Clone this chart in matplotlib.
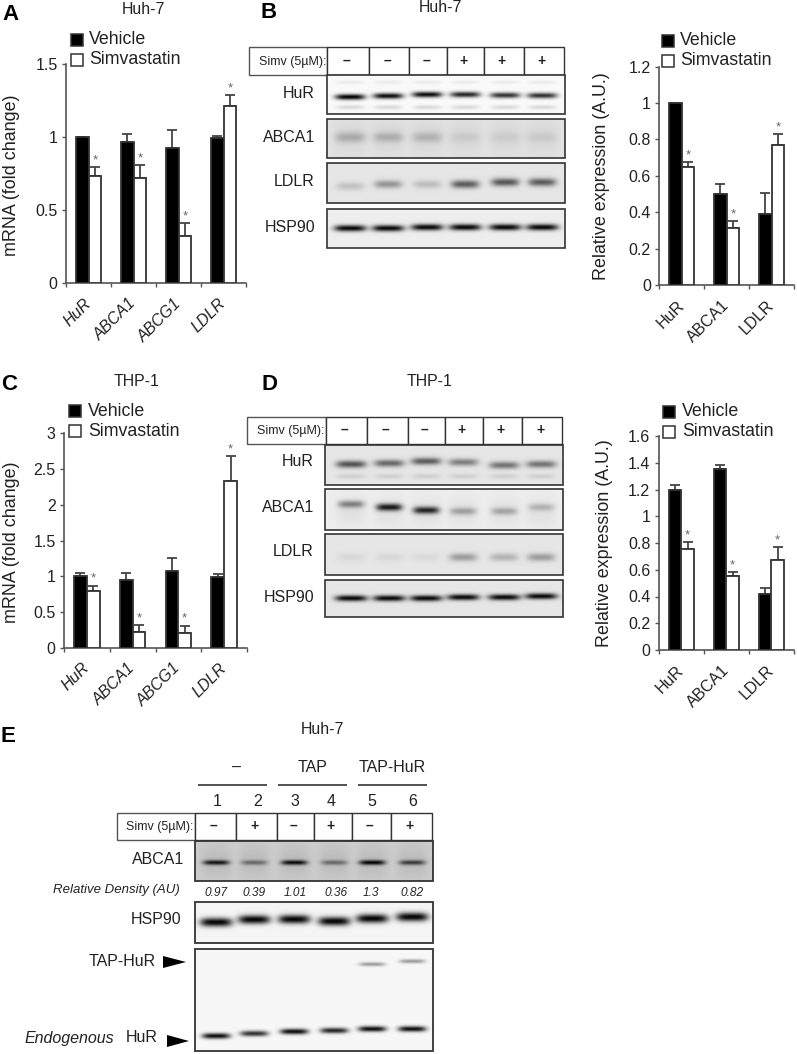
import numpy as np
import matplotlib
matplotlib.use('Agg')
import matplotlib.pyplot as plt
from matplotlib.patches import Rectangle, Polygon

plt.rcParams['font.family'] = ['Liberation Sans', 'DejaVu Sans']

W, H = 797, 1054
TXT = '#222222'
GREY = '#555555'

# bar charts
cats_a = ['HuR', 'ABCA1', 'ABCG1', 'LDLR']
veh_a = [1.0, 0.965, 0.925, 0.99]
veh_a_top = [1.0, 1.02, 1.05, 1.005]
sim_a = [0.735, 0.72, 0.32, 1.215]
sim_a_top = [0.795, 0.81, 0.41, 1.29]

cats_b = ['HuR', 'ABCA1', 'LDLR']
veh_b = [1.0, 0.5, 0.39]
veh_b_top = [1.0, 0.555, 0.505]
sim_b = [0.65, 0.315, 0.77]
sim_b_top = [0.675, 0.35, 0.83]

veh_c = [1.0, 0.95, 1.08, 0.99]
veh_c_top = [1.04, 1.05, 1.26, 1.03]
sim_c = [0.8, 0.22, 0.2, 2.33]
sim_c_top = [0.87, 0.32, 0.31, 2.68]

veh_d = [1.2, 1.35, 0.415]
veh_d_top = [1.23, 1.385, 0.46]
sim_d = [0.755, 0.555, 0.675]
sim_d_top = [0.81, 0.585, 0.77]

ticks_a = [0, 0.5, 1, 1.5]
ticks_b = [0, 0.2, 0.4, 0.6, 0.8, 1, 1.2]
ticks_c = [0, 0.5, 1, 1.5, 2, 2.5, 3]
ticks_d = [0, 0.2, 0.4, 0.6, 0.8, 1, 1.2, 1.4, 1.6]

# blots: band height (px on page) and darkness per lane
lanes_b = [350, 388, 427, 465, 505, 542]
lanes_d = [351, 389, 426, 463, 504, 541]
lanes_e = [216, 254, 294, 334, 372, 412]

huh_hur_y = [96.7, 95.7, 94.3, 94.3, 95, 95.3]
huh_hur_dark = [1.0, 0.95, 0.95, 0.85, 0.8, 0.8]
huh_abca1_dark = [0.22, 0.2, 0.18, 0.07, 0.06, 0.07]
huh_ldlr_dark = [0.16, 0.35, 0.18, 0.6, 0.62, 0.6]
huh_ldlr_y = [186, 184, 184, 184, 182, 182]
huh_hsp_y = [228, 228, 227, 227, 227, 227]

thp_hur_y = [464, 463, 461, 462, 465, 464]
thp_hur_dark = [0.65, 0.55, 0.6, 0.45, 0.5, 0.5]
thp_abca1_y = [504, 507, 510, 511, 511, 507]
thp_abca1_dark = [0.45, 0.9, 0.85, 0.3, 0.28, 0.22]
thp_ldlr_dark = [0.06, 0.06, 0.05, 0.32, 0.22, 0.32]
thp_hsp_y = [598, 598, 598, 597, 597, 596]

e_abca1_dark = [0.9, 0.45, 0.95, 0.45, 1.0, 0.7]
e_hsp_y = [922, 919.3, 919, 921, 918.3, 916.7]
e_tap_y = [964, 961]
e_tap_dark = [0.38, 0.38]
e_endo_y = [1035.7, 1033.3, 1031.3, 1030.3, 1028.7, 1028.7]
e_endo_dark = [0.95, 0.8, 0.95, 0.85, 0.95, 0.95]

density_vals = ['0.97', '0.39', '1.01', '0.36', '1.3', '0.82']
density_x = [216, 254, 295, 336, 371, 412]
lane_nums = ['1', '2', '3', '4', '5', '6']
lane_num_x = [217, 258, 295, 331, 372, 413]
signs_top = ['–', '–', '–', '+', '+', '+']
signs_e = ['–', '+', '–', '+', '–', '+']

fig = plt.figure(figsize=(W / 100, H / 100), dpi=100, facecolor='white')

over = fig.add_axes([0, 0, 1, 1], facecolor='none', zorder=5)
over.set_xlim(0, W)
over.set_ylim(H, 0)
over.axis('off')


def bar_panel(x0, x1, ytop, y0, ymax, ticks, cats, veh, veh_top, sim, sim_top, ylabel, ylab_x, italic=False):
    ax = fig.add_axes([x0 / W, 1 - y0 / H, (x1 - x0) / W, (y0 - ytop) / H])
    x = np.arange(len(cats))
    w = 0.28
    for pos, vals, tops, col in [(x - w / 2, veh, veh_top, 'black'), (x + w / 2, sim, sim_top, 'white')]:
        ax.bar(pos, vals, w, color=col, edgecolor='#333333', linewidth=1.3, zorder=3)
        up = np.array(tops) - np.array(vals)
        ax.errorbar(pos, vals, yerr=[np.zeros(len(vals)), up], fmt='none', ecolor='#444444',
                    elinewidth=1.3, capsize=3.5, capthick=1.3, zorder=2)
    for p, t in zip(x + w / 2, sim_top):
        ax.annotate('*', (p, t), xytext=(0, 0.5), textcoords='offset points', ha='center', va='bottom',
                    fontsize=9.5, color='#666666')
    ax.set_xlim(-0.5, len(cats) - 0.5)
    ax.set_ylim(0, ymax)
    ax.set_yticks(ticks, labels=[f'{t:g}' for t in ticks])
    ax.set_xticks(np.arange(len(cats) + 1) - 0.5, labels=[''] * (len(cats) + 1))
    ax.set_xticks(x, labels=cats, minor=True)
    ax.tick_params(axis='x', which='major', length=3, width=1, color=GREY)
    ax.tick_params(axis='x', which='minor', length=0, pad=13, labelsize=11.5, labelcolor=TXT)
    ax.tick_params(axis='y', length=3, width=1, color=GREY, labelsize=11.5, labelcolor=TXT, pad=3)
    for lab in ax.get_xticklabels(minor=True):
        lab.set_rotation(45)
        lab.set_ha('right')
        lab.set_va('center')
        lab.set_rotation_mode('anchor')
        if italic:
            lab.set_style('italic')
    for s in ['top', 'right']:
        ax.spines[s].set_visible(False)
    for s in ['left', 'bottom']:
        ax.spines[s].set_color(GREY)
        ax.spines[s].set_linewidth(1.2)
    over.text(ylab_x, (ytop + y0) / 2 + ylabel[1], ylabel[0], rotation=90, ha='center', va='center',
              fontsize=12.9, color=TXT)


def legend(x, y1, y2, tx):
    for y, col in [(y1, 'black'), (y2, 'white')]:
        over.add_patch(Rectangle((x, y - 6), 12, 12, fc=col, ec='#333333', lw=1.1))
    over.text(tx, y1, 'Vehicle', va='center', fontsize=12.8, color=TXT)
    over.text(tx, y2, 'Simvastatin', va='center', fontsize=12.8, color=TXT)


def blot(box, bg, bands, lw=1.2):
    x0, x1, y0, y1 = box
    xx, yy = np.meshgrid(np.arange(x0, x1, 0.5), np.arange(y0, y1, 0.5))
    dark = np.zeros_like(xx, dtype=float)
    for xs, ys, ds, hw, sig in bands:
        for cx, cy, d in zip(xs, ys, ds):
            g = np.exp(-((xx - cx) / hw) ** 4) * np.exp(-((yy - cy) / sig) ** 2)
            dark = 1 - (1 - dark) * (1 - d * g)
    over.imshow(bg * (1 - dark), extent=(x0, x1, y1, y0), cmap='gray', vmin=0, vmax=1,
                aspect='auto', interpolation='bilinear', zorder=1)
    over.add_patch(Rectangle((x0, y0), x1 - x0, y1 - y0, fc='none', ec='#333333', lw=lw, zorder=2))


def header(x0, dividers, y0, y1, signs):
    over.add_patch(Rectangle((x0, y0), dividers[0] - x0, y1 - y0, fc='white', ec='#555555', lw=1))
    for a, b, s in zip(dividers[:-1], dividers[1:], signs):
        over.add_patch(Rectangle((a, y0), b - a, y1 - y0, fc='white', ec='#333333', lw=1))
        over.text((a + b) / 2 - 2, (y0 + y1) / 2 - 0.5, s, ha='center', va='center', fontsize=10,
                  fontweight='bold', color=TXT)
    over.text(dividers[0] - 1, (y0 + y1) / 2 + 1, 'Simv (5µM):', ha='right', va='center', fontsize=9,
              color=TXT)


def label(x, y, s, **kw):
    kw.setdefault('fontsize', 11.5)
    kw.setdefault('color', TXT)
    kw.setdefault('va', 'center')
    over.text(x, y, s, **kw)


def const(v, n=6):
    return [v] * n


# panels with bars
bar_panel(66, 246, 64, 283, 1.5, ticks_a, cats_a, veh_a, veh_a_top, sim_a, sim_a_top,
          ('mRNA (fold change)', 2), 12, italic=True)
bar_panel(659.3, 794, 66.7, 285, 1.2, ticks_b, cats_b, veh_b, veh_b_top, sim_b, sim_b_top,
          ('Relative expression (A.U.)', 0), 602)
bar_panel(64, 247, 433.3, 647.7, 3, ticks_c, cats_a, veh_c, veh_c_top, sim_c, sim_c_top,
          ('mRNA (fold change)', 2), 12, italic=True)
bar_panel(658.7, 794, 436, 650, 1.6, ticks_d, cats_b, veh_d, veh_d_top, sim_d, sim_d_top,
          ('Relative expression (A.U.)', 0), 605)

legend(71, 40, 60, 89)
legend(662.5, 40.5, 60.5, 680)
legend(69.5, 411, 431, 88)
legend(663.5, 411.5, 431.5, 682)

# panel letters and titles
for x, y, s in [(2, 14, 'A'), (261, 13, 'B'), (1, 385, 'C'), (262, 384, 'D'), (1, 736, 'E')]:
    label(x, y, s, fontsize=16, fontweight='bold', color='black')
for x, y, s in [(143, 9, 'Huh-7'), (440, 8, 'Huh-7'), (137, 382, 'THP-1'), (430, 381, 'THP-1'), (322, 730, 'Huh-7')]:
    label(x, y, s, fontsize=11.4, ha='center')

# panel B blots
header(249, [327.3, 369, 409.3, 447, 484.3, 523.7, 564.3], 47, 75, signs_top)
blot((327, 565, 75, 114), 0.98, [(lanes_b, huh_hur_y, huh_hur_dark, 15, 2.8),
                                 (lanes_b, const(107), const(0.13), 14, 2.2),
                                 (lanes_b, const(82), const(0.06), 14, 2)])
blot((327, 565, 119, 158), 0.89, [(lanes_b, const(137), huh_abca1_dark, 15, 5),
                                  (lanes_b, const(137), const(0.05), 17, 18)])
blot((327, 565, 163, 203), 0.9, [(lanes_b, huh_ldlr_y, huh_ldlr_dark, 14, 4)])
blot((327, 565, 209, 248), 0.93, [(lanes_b, huh_hsp_y, const(0.97), 16, 3.2)])
for y, s in [(93, 'HuR'), (137, 'ABCA1'), (182, 'LDLR'), (228, 'HSP90')]:
    label(315, y, s, ha='right')

# panel D blots
header(247, [325.7, 367, 407.7, 445.3, 482.7, 522.3, 562.3], 416.7, 444, signs_top)
blot((325, 563, 445, 485), 0.9, [(lanes_d, thp_hur_y, thp_hur_dark, 15, 3.6),
                                 (lanes_d, const(476), const(0.1), 14, 2.4)])
blot((325, 563, 489, 530), 0.93, [(lanes_d, thp_abca1_y, thp_abca1_dark, 13, 3.6),
                                  (lanes_d, const(512), const(0.05), 15, 14)])
blot((325, 563, 534, 575), 0.9, [(lanes_d, const(557), thp_ldlr_dark, 14, 4)])
blot((325, 563, 580, 617), 0.9, [(lanes_d, thp_hsp_y, const(0.97), 16, 3)])
for y, s in [(462, 'HuR'), (507, 'ABCA1'), (551, 'LDLR'), (597, 'HSP90')]:
    label(314, y, s, ha='right')

# panel E
for a, b, y, s in [(198, 267, 767, '–'), (278, 347, 767, 'TAP'), (358, 427, 767, 'TAP-HuR')]:
    over.plot([a, b], [785, 785], color=TXT, lw=1.1, solid_capstyle='butt')
    label((a + b) / 2 + (4 if s == '–' else 0), y, s, ha='center')
for x, s in zip(lane_num_x, lane_nums):
    label(x, 802, s, ha='center')
header(116.7, [194.7, 236.3, 276.7, 314.3, 351.7, 391.3, 432.3], 812.7, 840, signs_e)
blot((195, 433, 841, 881), 0.8, [(lanes_e, const(862.3), e_abca1_dark, 13, 2.4),
                                 (lanes_e, const(862), const(0.08), 15, 16)], lw=1.3)
blot((195, 433, 902, 943), 0.96, [(lanes_e, e_hsp_y, const(0.98), 16, 4.4)], lw=1.3)
blot((195, 433, 949, 1051), 0.97, [(lanes_e[4:], e_tap_y, e_tap_dark, 13, 2.0),
                                   (lanes_e, e_endo_y, e_endo_dark, 14, 2.8)], lw=1.3)
label(184, 860, 'ABCA1', ha='right')
label(181, 920, 'HSP90', ha='right')
label(180, 890, 'Relative Density (AU)', ha='right', fontsize=9.5, style='italic')
for x, s in zip(density_x, density_vals):
    label(x, 893, s, ha='center', fontsize=8.6, style='italic')
label(156, 961, 'TAP-HuR', ha='right')
label(25, 1038, 'Endogenous', style='italic')
label(158, 1038, 'HuR', ha='right')
over.add_patch(Polygon([(163, 956), (163, 968), (186, 962)], fc='black', ec='none'))
over.add_patch(Polygon([(167, 1035), (167, 1047), (189, 1041)], fc='black', ec='none'))

over.set_xlim(0, W)
over.set_ylim(H, 0)
fig.savefig('out.png', dpi=100, facecolor='white')
